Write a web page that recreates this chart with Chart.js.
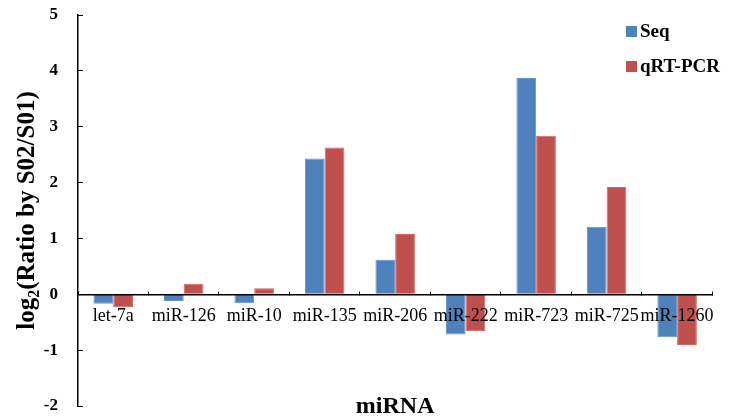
<!DOCTYPE html>
<html>
<head>
<meta charset="utf-8">
<script src="https://cdn.jsdelivr.net/npm/chart.js@4.4.1/dist/chart.umd.min.js"></script>
<style>
  html, body { margin: 0; padding: 0; background: #fff; }
  #wrap { width: 729px; height: 417px; }
</style>
</head>
<body>
<div id="wrap"><canvas id="ratioGraph" width="729" height="417"></canvas></div>
<script>
const mirnaLabels = ['let-7a', 'miR-126', 'miR-10', 'miR-135', 'miR-206', 'miR-222', 'miR-723', 'miR-725', 'miR-1260'];
const seqValues = [-0.17, -0.12, -0.16, 2.43, 0.62, -0.72, 3.87, 1.21, -0.77];
const pcrValues = [-0.23, 0.19, 0.11, 2.63, 1.08, -0.66, 2.84, 1.92, -0.91];
const yTicks = [-2, -1, 0, 1, 2, 3, 4, 5];

const serif = '"Liberation Serif", "Times New Roman", serif';

// axis titles + legend are drawn by hand (subscript, legend sits inside the plot)
const extras = {
  id: 'extras',
  afterDraw(chart) {
    const ctx = chart.ctx;
    const area = chart.chartArea;
    ctx.save();
    ctx.fillStyle = '#000';

    // x title
    ctx.font = 'bold 24px ' + serif;
    ctx.textAlign = 'center';
    ctx.textBaseline = 'alphabetic';
    ctx.fillText('miRNA', (area.left + area.right) / 2, 413);

    // y title: log2 with subscript 2
    const big = 'bold 25px ' + serif;
    const small = 'bold 16px ' + serif;
    const parts = [['log', big, 0], ['2', small, 5], ['(Ratio by S02/S01)', big, 0]];
    let total = 0;
    parts.forEach(p => { ctx.font = p[1]; total += ctx.measureText(p[0]).width; });
    ctx.translate(34, (area.top + area.bottom) / 2);
    ctx.rotate(-Math.PI / 2);
    ctx.textAlign = 'left';
    let x = -total / 2;
    parts.forEach(p => {
      ctx.font = p[1];
      ctx.fillText(p[0], x, p[2]);
      x += ctx.measureText(p[0]).width;
    });
    ctx.setTransform(1, 0, 0, 1, 0, 0);

    // legend
    ctx.font = 'bold 19px ' + serif;
    ctx.textBaseline = 'middle';
    chart.data.datasets.forEach((ds, i) => {
      const cy = 31 + i * 35;
      ctx.fillStyle = ds.backgroundColor;
      ctx.fillRect(626, cy - 5, 11, 11);
      ctx.fillStyle = '#000';
      ctx.fillText(ds.label, 640, cy + 1);
    });
    ctx.restore();
  }
};

const ratioGraph = new Chart(document.getElementById('ratioGraph').getContext('2d'), {
  type: 'bar',
  data: {
    labels: mirnaLabels,
    datasets: [
      { label: 'Seq', data: seqValues, backgroundColor: '#4F81BD', borderColor: '#6393d0', borderWidth: 1 },
      { label: 'qRT-PCR', data: pcrValues, backgroundColor: '#C0504D', borderColor: '#d26561', borderWidth: 1 }
    ]
  },
  options: {
    responsive: false,
    animation: false,
    categoryPercentage: 0.56,
    barPercentage: 1.0,
    layout: { padding: { left: 0, right: 7, top: 15, bottom: 11 } },
    plugins: {
      legend: { display: false },
      tooltip: { enabled: false }
    },
    scales: {
      x: {
        position: { y: 0 },
        grid: { drawOnChartArea: false, drawTicks: true, tickLength: -4, color: '#000', offset: true },
        border: { color: '#000', width: 1.5, z: 1 },
        ticks: {
          z: 1, // category names sit on top of the negative bars
          color: '#000',
          font: { family: serif, size: 18 },
          padding: 15,
          maxRotation: 0,
          autoSkip: false
        }
      },
      y: {
        min: -2,
        max: 5,
        afterFit(scale) {
          // fixed axis band; the tick padding should not push the plot inwards
          scale.width = 78;
          scale.paddingTop = 10;
          scale.paddingBottom = 10;
        },
        afterBuildTicks(scale) { scale.ticks = yTicks.map(v => ({ value: v })); },
        grid: { drawOnChartArea: false, drawTicks: true, tickLength: -5, color: '#000' },
        border: { color: '#000', width: 1.5 },
        ticks: {
          color: '#000',
          font: { family: serif, size: 17, weight: 'bold' },
          padding: 25
        }
      }
    }
  },
  plugins: [extras]
});
</script>
</body>
</html>
